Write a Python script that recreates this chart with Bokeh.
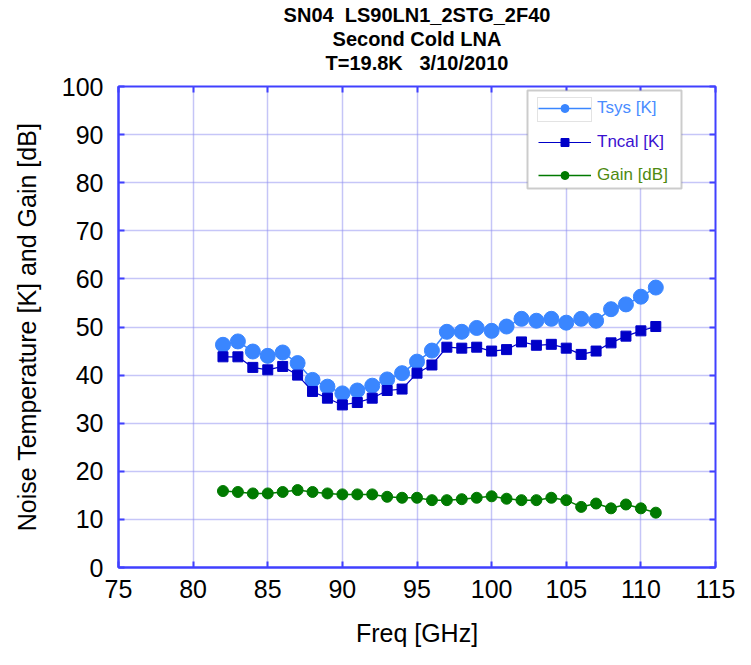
from bokeh.plotting import figure
from bokeh.models import (Legend, LegendItem, BoxAnnotation, LinearAxis, Range1d,
                          FixedTicker, CustomJSTickFormatter, Title)
from bokeh.embed import file_html
from bokeh.resources import INLINE

freq = [82, 83, 84, 85, 86, 87, 88, 89, 90, 91, 92, 93, 94, 95, 96,
        97, 98, 99, 100, 101, 102, 103, 104, 105, 106, 107, 108, 109, 110, 111]
tsys = [46.3, 47.0, 44.9, 44.0, 44.7, 42.5, 39.0, 37.6, 36.2, 36.8, 37.8, 39.1, 40.4, 42.8, 45.1,
        49.0, 49.0, 49.8, 49.2, 50.1, 51.7, 51.3, 51.7, 50.9, 51.7, 51.3, 53.7, 54.7, 56.3, 58.2]
tncal = [43.8, 43.8, 41.6, 41.1, 41.8, 40.0, 36.6, 35.2, 33.8, 34.3, 35.2, 36.8, 37.1, 40.4, 42.1,
         45.8, 45.6, 45.8, 45.0, 45.3, 46.9, 46.2, 46.4, 45.6, 44.3, 45.0, 46.7, 48.1, 49.2, 50.1]
gain = [15.9, 15.7, 15.4, 15.4, 15.7, 16.1, 15.7, 15.4, 15.2, 15.2, 15.2, 14.7, 14.5, 14.5, 14.0,
        14.0, 14.2, 14.5, 14.8, 14.3, 14.0, 14.0, 14.5, 14.0, 12.6, 13.3, 12.3, 13.1, 12.3, 11.4]

series_names = ["Tsys [K]", "Tncal [K]", "Gain [dB]"]
x_ticks = [75, 80, 85, 90, 95, 100, 105, 110, 115]
y_ticks = [0, 10, 20, 30, 40, 50, 60, 70, 80, 90, 100]
title_lines = ["SN04\u00a0\u00a0LS90LN1_2STG_2F40", "Second Cold LNA", "T=19.8K\u00a0\u00a0\u00a03/10/2010"]

FONT = "Liberation Sans"
AXC = "#4040ff"
GRIDC = "#8c8cf0"

p = figure(width=735, height=649, output_backend="svg", toolbar_location=None, title=None,
           x_range=Range1d(75, 115), y_range=Range1d(0, 100),
           min_border_left=118, min_border_right=20, min_border_top=86, min_border_bottom=80)

p.outline_line_color = AXC
p.outline_line_width = 2
p.outline_line_alpha = 1

for ax in (p.xaxis[0], p.yaxis[0]):
    ax.axis_line_color = AXC
    ax.axis_line_width = 2
    ax.major_tick_line_color = AXC
    ax.major_tick_line_width = 2
    ax.major_tick_in = 6
    ax.major_tick_out = 0
    ax.minor_tick_line_color = None
    ax.major_label_text_font = FONT
    ax.major_label_text_font_size = "25px"
    ax.major_label_text_color = "black"
    ax.axis_label_text_font = FONT
    ax.axis_label_text_font_size = "25px"
    ax.axis_label_text_font_style = "normal"
    ax.axis_label_text_color = "black"

p.xaxis[0].ticker = FixedTicker(ticks=x_ticks)
p.yaxis[0].ticker = FixedTicker(ticks=y_ticks)
p.xaxis[0].axis_label = "Freq [GHz]"
p.yaxis[0].axis_label = "Noise Temperature [K] and Gain [dB]"
p.xaxis[0].major_label_standoff = 12
p.yaxis[0].major_label_standoff = 15
p.xaxis[0].axis_label_standoff = 18
p.yaxis[0].axis_label_standoff = 18

blank = CustomJSTickFormatter(code="return ''")
top = LinearAxis(ticker=FixedTicker(ticks=x_ticks), formatter=blank, axis_line_color=None,
                 major_tick_in=6, major_tick_out=0, major_tick_line_color=AXC,
                 major_tick_line_width=2, minor_tick_line_color=None,
                 major_label_text_font_size="0px", major_label_standoff=0)
right = LinearAxis(ticker=FixedTicker(ticks=y_ticks), formatter=blank, axis_line_color=None,
                   major_tick_in=6, major_tick_out=0, major_tick_line_color=AXC,
                   major_tick_line_width=2, minor_tick_line_color=None,
                   major_label_text_font_size="0px", major_label_standoff=0)
p.add_layout(top, "above")
p.add_layout(right, "right")

# blank spacer between the frame and the title block
p.add_layout(Title(text="\u00a0", text_font=FONT, text_font_size="10px", standoff=0), "above")
# title lines: the last added sits farthest from the frame
for txt in reversed(title_lines):
    t = Title(text=txt, align="center", text_font=FONT, text_font_size="20px",
              text_font_style="bold", text_color="black", text_line_height=1.0,
              standoff=0)
    p.add_layout(t, "above")

p.xgrid.ticker = FixedTicker(ticks=x_ticks)
p.ygrid.ticker = FixedTicker(ticks=y_ticks)
for g in (p.xgrid[0], p.ygrid[0]):
    g.grid_line_color = GRIDC
    g.grid_line_dash = "1 1"
    g.grid_line_width = 1.5

C_TSYS = "#3a86ff"
C_TNCAL = "#0000c8"
C_GAIN = "#007a00"

l1 = p.line(freq, tsys, line_color=C_TSYS, line_width=1.5)
s1 = p.scatter(freq, tsys, marker="circle", size=15, fill_color=C_TSYS, line_color=C_TSYS)
l2 = p.line(freq, tncal, line_color=C_TNCAL, line_width=1.2)
s2 = p.scatter(freq, tncal, marker="square", size=10, fill_color=C_TNCAL, line_color=C_TNCAL)
l3 = p.line(freq, gain, line_color=C_GAIN, line_width=1.5)
s3 = p.scatter(freq, gain, marker="circle", size=11, fill_color=C_GAIN, line_color=C_GAIN)

box = BoxAnnotation(left=409, right=563, bottom=379, top=477,
                    left_units="screen", right_units="screen",
                    bottom_units="screen", top_units="screen",
                    fill_color="white", fill_alpha=1, line_color="#555555", line_width=2)
p.add_layout(box)
sel = BoxAnnotation(left=419, right=473, bottom=446, top=470,
                    left_units="screen", right_units="screen",
                    bottom_units="screen", top_units="screen",
                    fill_alpha=0, line_color="#444444", line_width=1, line_dash="1 1")
p.add_layout(sel)

legend_specs = [
    (series_names[0], [l1, s1], "#4a8cff", 449),
    (series_names[1], [l2, s2], "#3a10d0", 415),
    (series_names[2], [l3, s3], "#4e8a10", 382),
]
for label, rends, color, ybot in legend_specs:
    lg = Legend(items=[LegendItem(label=label, renderers=rends)],
                location=(420, ybot), border_line_color=None, background_fill_alpha=0,
                padding=0, margin=0, spacing=0, glyph_width=53, glyph_height=20,
                label_standoff=6, label_text_font=FONT, label_text_font_size="17px",
                label_text_color=color, label_height=20)
    p.add_layout(lg)

open("out.html", "w").write(file_html(p, INLINE))
